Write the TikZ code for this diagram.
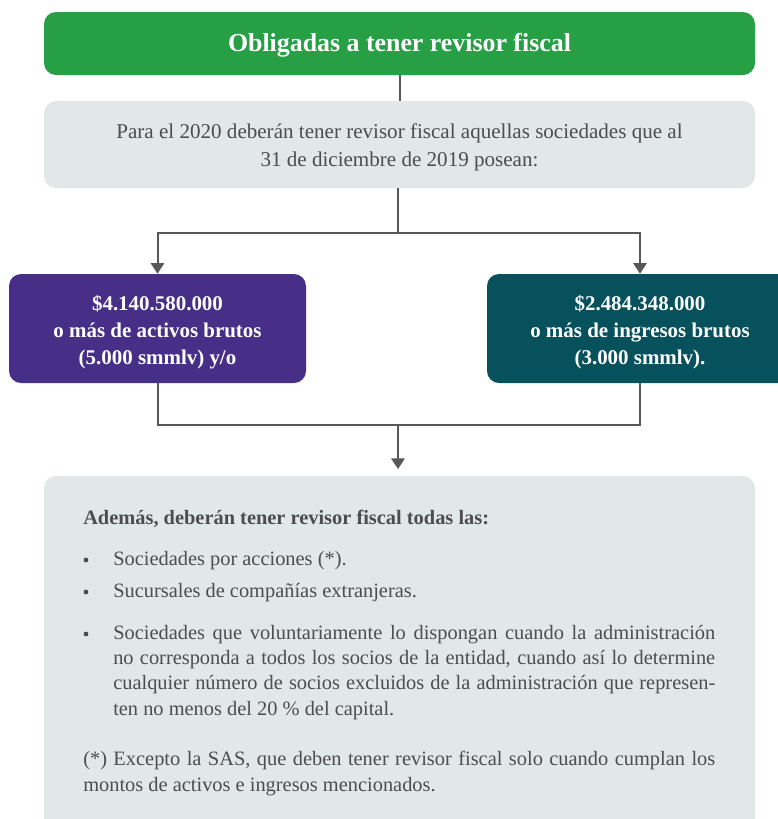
\documentclass[tikz,border=0pt]{standalone}
\usepackage{fontspec}
\setmainfont{Liberation Serif}
\usepackage{xcolor}
\usepackage{tikz}
\usetikzlibrary{arrows.meta,positioning}

\definecolor{titlegreen}{RGB}{39,159,69}
\definecolor{panelgray}{RGB}{226,231,231}
\definecolor{assetpurple}{RGB}{71,47,135}
\definecolor{incometeal}{RGB}{7,81,92}
\definecolor{linegray}{RGB}{88,88,88}
\definecolor{textgray}{RGB}{77,77,77}

\newcommand{\jline}[1]{\makebox[451.5pt][s]{#1}}
\newcommand{\padtop}[1]{\rule{0pt}{#1}}

\begin{document}
\begin{tikzpicture}[x=0.75pt,y=-0.75pt, >={Triangle[width=10pt,length=8pt]},
  panel/.style={fill=panelgray,rounded corners=9pt,minimum width=533.25pt,align=center,text=textgray},
  money/.style={rounded corners=9pt,minimum width=222.75pt,minimum height=81.75pt,align=center,text=white,font=\fontsize{15.7}{20.25}\selectfont\bfseries},
  link/.style={draw=linegray,line width=1.5pt},
  body/.style={anchor=base west,inner sep=0pt,text=textgray,align=left,font=\fontsize{15.3}{19}\selectfont},
  dot/.style={circle,fill=textgray,inner sep=0pt,minimum size=3.6pt}]
\clip (0,0) rectangle (778,819);
\useasboundingbox (0,0) rectangle (778,819);
\node[fill=titlegreen,rounded corners=9pt,minimum width=533.25pt,minimum height=47.25pt,text=white,font=\fontsize{19.4}{22}\selectfont\bfseries] (title) at (399.5,43.5) {\padtop{16.5pt}Obligadas a tener revisor fiscal};
\node[panel,minimum height=65.25pt,font=\fontsize{15.8}{21}\selectfont] (intro) at (399.5,144.5) {\padtop{15.5pt}Para el 2020 deberán tener revisor fiscal aquellas sociedades que al\\31 de diciembre de 2019 posean:};
\node[money,fill=assetpurple] (assets) at (157.5,328.5) {\padtop{17.5pt}\$4.140.580.000\\o más de activos brutos\\(5.000 smmlv) y/o};
\node[money,fill=incometeal,minimum width=229.5pt] (income) at (640,328.5) {\padtop{17.5pt}\$2.484.348.000\\o más de ingresos brutos\\(3.000 smmlv).};
\node[panel,minimum height=270pt] (extra) at (399.5,656) {};
\coordinate (split) at (398,233);
\coordinate (merge) at (398,425);
\draw[link] (title) -- (intro);
\draw[link] (intro.south -| split) -- (split);
\draw[link,->] (split) -| (assets.north);
\draw[link,->] (split) -| (income.north);
\draw[link] (assets.south) |- (merge);
\draw[link] (income.south) |- (merge);
\draw[link,->,shorten >=5pt] (merge) -- (extra.north -| merge);
% texto del recuadro inferior
\node[body,font=\fontsize{15.3}{19}\selectfont\bfseries] (head) at (83,524) {Además, deberán tener revisor fiscal todas las:};
\node[body] (item1) at (113,565) {Sociedades por acciones (*).};
\node[body] (item2) at (113,597) {Sucursales de compañías extranjeras.};
\node[body] (item3) at (113,715) {\jline{Sociedades que voluntariamente lo dispongan cuando la administración}\\
  \jline{no corresponda a todos los socios de la entidad, cuando así lo determine}\\
  \jline{cualquier número de socios excluidos de la administración que represen-}\\
  ten no menos del 20~\% del capital.};
\foreach \y/\n in {565/1,597/2,639/3}
  \node[dot] (dot\n) at (86,\y-5) {};
\node[body,font=\fontsize{15.3}{19.5}\selectfont] (note) at (83,791) {\makebox[474pt][s]{(*) Excepto la SAS, que deben tener revisor fiscal solo cuando cumplan los}\\montos de activos e ingresos mencionados.};
\end{tikzpicture}
\end{document}
